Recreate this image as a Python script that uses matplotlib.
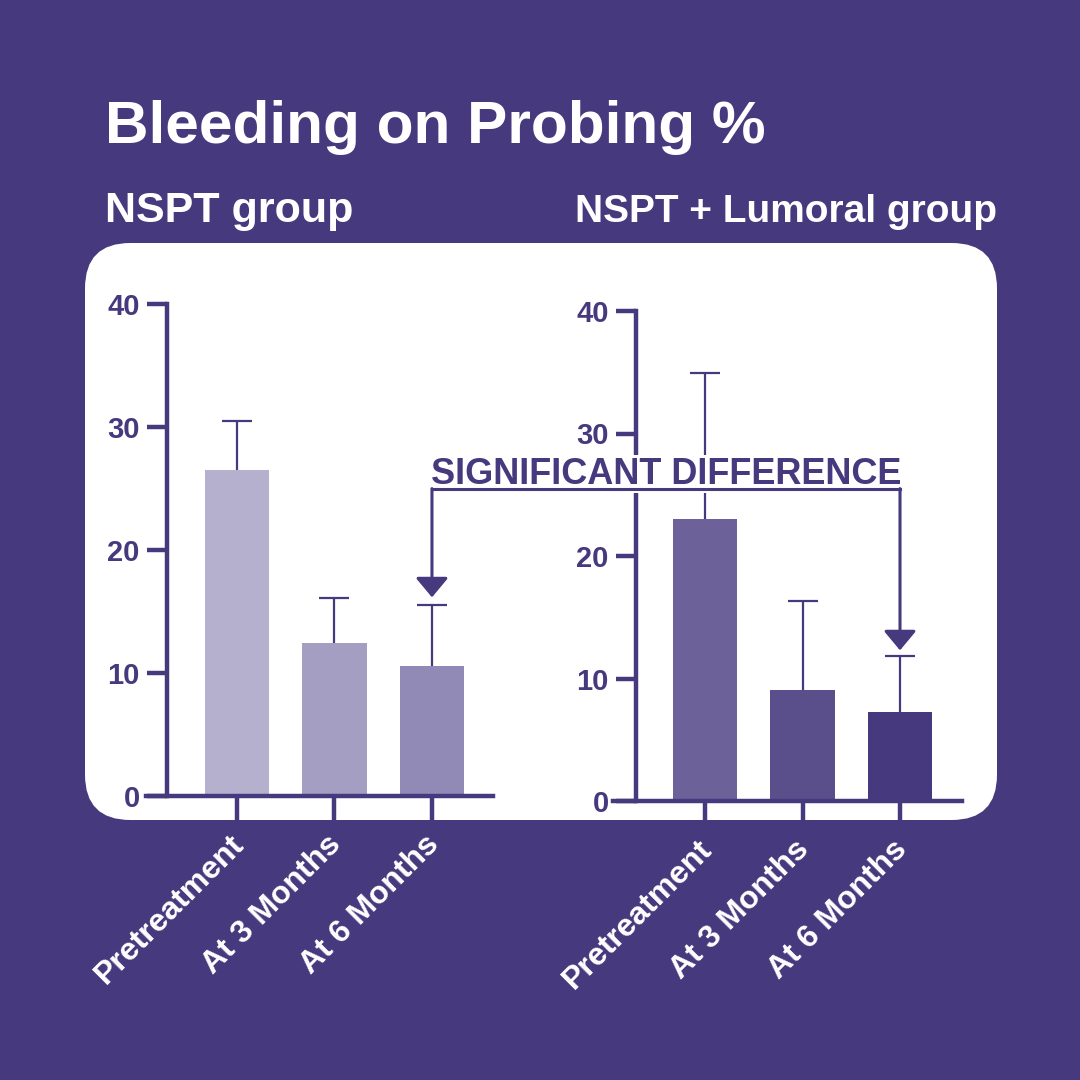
import matplotlib
matplotlib.use('Agg')
import matplotlib.pyplot as plt
from matplotlib.patches import FancyBboxPatch, FancyArrowPatch
from matplotlib.lines import Line2D
from matplotlib.transforms import IdentityTransform, ScaledTranslation

# data
categories = ['Pretreatment', 'At 3 Months', 'At 6 Months']
nspt_mean = [26.5, 12.4, 10.6]
nspt_err = [4.0, 3.7, 4.9]
lumoral_mean = [23.0, 9.1, 7.3]
lumoral_err = [11.9, 7.2, 4.5]
yticks = [0, 10, 20, 30, 40]

# style
bg = '#47397d'
ink = '#47397d'
nspt_colors = ['#b6b0cf', '#a59ec3', '#928ab6']
lumoral_colors = ['#6c6199', '#5a4e8b', '#47397d']
plt.rcParams['font.family'] = ['Liberation Sans', 'DejaVu Sans']
plt.rcParams['font.weight'] = 'bold'

W = 1080
fig = plt.figure(figsize=(10.8, 10.8), dpi=100, facecolor=bg)

# white panel
panel = FancyBboxPatch((85 / W, 260 / W), 912 / W, 577 / W,
                       boxstyle='round,pad=0,rounding_size=0.042',
                       transform=fig.transFigure, facecolor='white',
                       edgecolor='none', zorder=0)
fig.patches.append(panel)

fig.text(105 / W, 1 - 143 / W, 'Bleeding on Probing %', color='white',
         fontsize=43.5, fontweight='bold', va='baseline')
fig.text(105 / W, 1 - 222 / W, 'NSPT group', color='white',
         fontsize=31, fontweight='bold', va='baseline')
fig.text(997 / W, 1 - 222 / W, 'NSPT + Lumoral group', color='white',
         fontsize=28, fontweight='bold', va='baseline', ha='right')


def draw_panel(rect, xlim, spine_x, means, errs, colors):
    ax = fig.add_axes(rect, zorder=2)
    ax.set_facecolor('none')
    x = range(len(means))
    ax.bar(x, means, width=0.66, color=colors, zorder=2)
    eb = ax.errorbar(x, means, yerr=[[0] * len(errs), errs], fmt='none',
                     ecolor=ink, elinewidth=1.6, capsize=10.8,
                     capthick=1.6, zorder=1)
    # only the upper caps
    eb.lines[1][0].set_visible(False)
    ax.set_xlim(*xlim)
    ax.set_ylim(0, 40)
    for s in ['top', 'right']:
        ax.spines[s].set_visible(False)
    ax.spines['left'].set_position(('data', spine_x))
    ax.spines['left'].set_bounds(0, 40)
    for s in ['left', 'bottom']:
        ax.spines[s].set_linewidth(3.2)
        ax.spines[s].set_color(ink)
        ax.spines[s].set_zorder(3)
    ax.set_yticks(yticks)
    ax.set_yticklabels([str(t) for t in yticks], fontsize=21,
                       fontweight='bold', color=ink)
    ax.tick_params(axis='y', length=14.4, width=3.2, color=ink, pad=5)
    ax.set_xticks(list(x))
    ax.set_xticklabels(categories, rotation=45, ha='right', va='top',
                       rotation_mode='anchor', fontsize=23,
                       fontweight='bold', color='white')
    ax.tick_params(axis='x', length=19, width=3.2, color=ink, pad=5)
    off = ScaledTranslation(-8 / 100, 0, fig.dpi_scale_trans)
    for lab in ax.get_xticklabels():
        lab.set_transform(lab.get_transform() + off)
    return ax


ax1 = draw_panel([146 / W, 284 / W, 347 / W, 492 / W], (-0.933, 2.626),
                 -0.72, nspt_mean, nspt_err, nspt_colors)
ax2 = draw_panel([613 / W, 279 / W, 349 / W, 490 / W], (-0.944, 2.636),
                 -0.71, lumoral_mean, lumoral_err, lumoral_colors)

# significance bracket
tip_l = ax1.transData.transform((2, nspt_mean[2] + nspt_err[2] + 0.65))
tip_r = ax2.transData.transform((2, lumoral_mean[2] + lumoral_err[2] + 0.5))
y_br = ax2.transData.transform((0, 25.5))[1]
ident = IdentityTransform()
fig.add_artist(Line2D([tip_l[0], tip_r[0]], [y_br, y_br], color=ink,
                      lw=2.2, transform=ident, zorder=6,
                      solid_capstyle='projecting'))
for tip in (tip_l, tip_r):
    fig.add_artist(FancyArrowPatch((tip[0], y_br), (tip[0], tip[1]),
                                   arrowstyle='-|>,head_length=0.6,head_width=0.5',
                                   mutation_scale=20, color=ink, lw=2.2,
                                   shrinkA=0, shrinkB=0, transform=ident,
                                   zorder=6))
fig.text((tip_l[0] + tip_r[0]) / 2 / W, (y_br + 5) / W,
         'SIGNIFICANT DIFFERENCE', color=ink, fontsize=26,
         fontweight='bold', ha='center', va='baseline', zorder=5,
         bbox=dict(facecolor='white', edgecolor='none', pad=1))

fig.savefig('out.png', dpi=100, facecolor=bg)
